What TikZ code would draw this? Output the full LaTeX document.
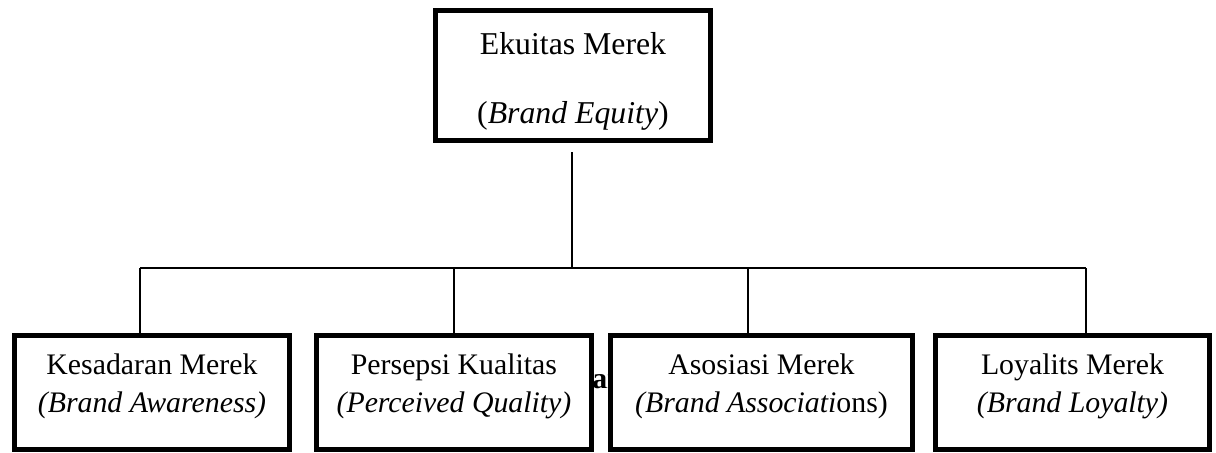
\documentclass[tikz,border=0pt]{standalone}
\usepackage{fontspec}
\setmainfont{Liberation Serif}
\usetikzlibrary{positioning}

\begin{document}
\begin{tikzpicture}[
  x=0.025cm, y=-0.025cm,
  topbox/.style={rectangle, draw, line width=3.6pt, fill=white, minimum width=6.875cm, minimum height=3.25cm, align=center,
    font=\fontsize{22.6pt}{48.4pt}\selectfont, text height=72.6pt, text depth=5pt},
  dimbox/.style={rectangle, draw, line width=3.6pt, fill=white, minimum width=6.875cm, minimum height=2.85cm, align=center,
    font=\fontsize{21.2pt}{27.7pt}\selectfont, text height=34.1pt, text depth=5pt},
  link/.style={line width=0.9pt}
]
\useasboundingbox (0,0) rectangle (1216,453);

% Text partly hidden behind the boxes
\node[font=\fontsize{21.2pt}{24pt}\bfseries\selectfont, anchor=base west, inner sep=0pt] (hidden) at (592,388) {ar};

% Top: brand equity
\node[topbox] (equity) at (573,75.5) {Ekuitas Merek\\(\textit{Brand Equity})};

% Four dimensions
\node[dimbox] (aware) at (152,392.5) {Kesadaran Merek\\\textit{(Brand Awareness)}};
\node[dimbox] (quality) at (454,392.5) {Persepsi Kualitas\\\textit{(Perceived Quality)}};
\node[dimbox, minimum width=7.55cm] (assoc) at (761.5,392.5) {Asosiasi Merek\\\textit{(Brand Associati}ons)};
\node[dimbox, minimum width=6.85cm] (loyal) at (1072.5,392.5) {Loyalits Merek\\\textit{(Brand Loyalty)}};

% Tree connectors
\coordinate (stem) at (572,152);
\coordinate (hub) at (572,268);
\coordinate (bus1) at (140,268);
\coordinate (bus2) at (454,268);
\coordinate (bus3) at (748,268);
\coordinate (bus4) at (1086,268);
\draw[link] (stem) -- (hub);
\draw[link] (bus1) -- (bus4);
\foreach \c/\b in {bus1/aware, bus2/quality, bus3/assoc, bus4/loyal}
  \draw[link] (\c) -- (\c |- \b.north);

\end{tikzpicture}
\end{document}
